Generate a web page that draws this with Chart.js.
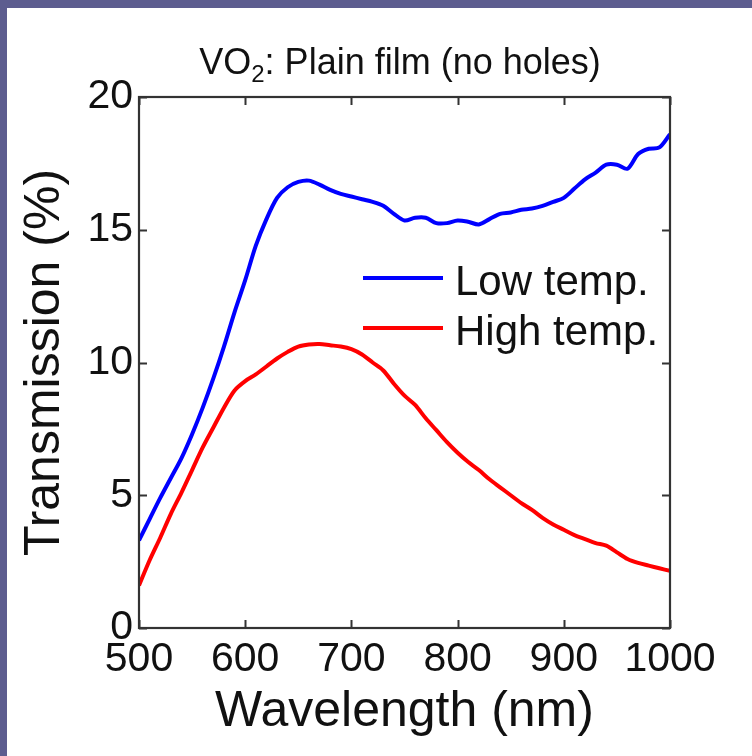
<!DOCTYPE html>
<html>
<head>
<meta charset="utf-8">
<script src="https://cdn.jsdelivr.net/npm/chart.js@4.4.1/dist/chart.umd.min.js"></script>
<style>
    body { margin: 0; background: #5d5d8f; width: 752px; height: 756px; overflow: hidden; }
    #grafica { position: absolute; left: 7px; top: 8px; background: #ffffff; }
</style>
</head>
<body>
<canvas id="grafica" width="745" height="748"></canvas>
<script>
// longituds d'ona (nm), pas de 10 nm
var longitudsOna = [500, 510, 520, 530, 540, 550, 560, 570, 580, 590,
    600, 610, 620, 630, 640, 650, 660, 670, 680, 690,
    700, 710, 720, 730, 740, 750, 760, 770, 780, 790,
    800, 810, 820, 830, 840, 850, 860, 870, 880, 890,
    900, 910, 920, 930, 940, 950, 960, 970, 980, 990, 1000];

// transmissio (%) a temperatura baixa
var tempBaixa = [3.3, 4.1, 4.9, 5.65, 6.4, 7.3, 8.3, 9.4, 10.6, 11.9,
    13.1, 14.4, 15.4, 16.2, 16.6, 16.8, 16.85, 16.7, 16.5, 16.35,
    16.25, 16.15, 16.05, 15.9, 15.6, 15.35, 15.45, 15.45, 15.25, 15.25,
    15.35, 15.3, 15.2, 15.4, 15.6, 15.65, 15.75, 15.8, 15.9, 16.05,
    16.2, 16.55, 16.9, 17.15, 17.45, 17.45, 17.3, 17.85, 18.05, 18.1, 18.6];

// transmissio (%) a temperatura alta
var tempAlta = [1.6, 2.55, 3.4, 4.3, 5.1, 5.95, 6.8, 7.55, 8.3, 8.95,
    9.3, 9.55, 9.85, 10.15, 10.4, 10.6, 10.68, 10.7, 10.65, 10.6,
    10.5, 10.3, 10.0, 9.7, 9.2, 8.75, 8.4, 7.9, 7.45, 7.0,
    6.6, 6.25, 5.95, 5.6, 5.3, 5.0, 4.7, 4.45, 4.15, 3.9,
    3.7, 3.5, 3.35, 3.2, 3.1, 2.85, 2.6, 2.45, 2.35, 2.25, 2.15];

var ticksX = [500, 600, 700, 800, 900, 1000];
var ticksY = [0, 5, 10, 15, 20];
var etiquetes = ['Low temp.', 'High temp.'];

var lletra = "'Liberation Sans', Arial, sans-serif";

function punts(valors) {
    return valors.map(function (v, i) { return { x: longitudsOna[i], y: v }; });
}

//caixa amb marques cap a dins, llegenda i titol amb subindex
const decoracio = {
    id: 'decoracio',
    afterDraw(chart) {
        const ctx = chart.ctx;
        const a = chart.chartArea;
        const x = chart.scales.x;
        const y = chart.scales.y;
        ctx.save();
        ctx.strokeStyle = '#333';
        ctx.lineWidth = 2.2;
        ctx.strokeRect(a.left, a.top, a.right - a.left, a.bottom - a.top);
        ctx.lineWidth = 2;
        ctx.beginPath();
        x.ticks.forEach(function (t) {
            let px = Math.round(x.getPixelForValue(t.value)) + 0.5;
            ctx.moveTo(px, a.bottom); ctx.lineTo(px, a.bottom - 8);
            ctx.moveTo(px, a.top); ctx.lineTo(px, a.top + 8);
        });
        y.ticks.forEach(function (t) {
            let py = Math.round(y.getPixelForValue(t.value)) + 0.5;
            ctx.moveTo(a.left, py); ctx.lineTo(a.left + 8, py);
            ctx.moveTo(a.right, py); ctx.lineTo(a.right - 8, py);
        });
        ctx.stroke();

        // llegenda dins l'area
        ctx.font = '42px ' + lletra;
        ctx.fillStyle = '#111';
        ctx.textBaseline = 'alphabetic';
        chart.data.datasets.forEach(function (ds, i) {
            let ly = 270 + i * 50;
            ctx.strokeStyle = ds.borderColor;
            ctx.lineWidth = 4;
            ctx.beginPath();
            ctx.moveTo(356, ly); ctx.lineTo(436, ly);
            ctx.stroke();
            ctx.fillText(ds.label, 448, ly + 17);
        });

        // titol: VO2: Plain film (no holes)
        let gran = '36px ' + lletra;
        let petit = '24px ' + lletra;
        ctx.font = gran;
        let w1 = ctx.measureText('VO').width;
        let w3 = ctx.measureText(': Plain film (no holes)').width;
        ctx.font = petit;
        let w2 = ctx.measureText('2').width;
        let x0 = 393 - (w1 + w2 + w3) / 2;
        let base = 66;
        ctx.font = gran;
        ctx.fillText('VO', x0, base);
        ctx.font = petit;
        ctx.fillText('2', x0 + w1, base + 8);
        ctx.font = gran;
        ctx.fillText(': Plain film (no holes)', x0 + w1 + w2, base);
        ctx.restore();
    }
};

const ctx = document.getElementById('grafica');
const grafica = new Chart(ctx, {
    type: 'line',
    data: {
        datasets: [{
            label: etiquetes[0],
            data: punts(tempBaixa),
            borderColor: 'rgb(0, 0, 255)',
            borderWidth: 4,
            pointRadius: 0,
            tension: 0.3
        }, {
            label: etiquetes[1],
            data: punts(tempAlta),
            borderColor: 'rgb(255, 0, 0)',
            borderWidth: 4,
            pointRadius: 0,
            tension: 0.3
        }]
    },
    options: {
        responsive: false,
        animation: false,
        devicePixelRatio: 1,
        layout: {
            padding: { top: 89, right: 82, left: 0, bottom: 0 }
        },
        plugins: {
            legend: { display: false },
            tooltip: { enabled: false }
        },
        scales: {
            x: {
                type: 'linear',
                min: 500,
                max: 1000,
                afterFit: function (s) { s.height = 128; },
                afterBuildTicks: function (s) { s.ticks = ticksX.map(function (v) { return { value: v }; }); },
                grid: { display: false, drawTicks: false },
                border: { display: false },
                ticks: {
                    padding: 7,
                    color: '#111',
                    autoSkip: false,
                    maxRotation: 0,
                    minRotation: 0,
                    callback: function (v) { return String(v); },
                    font: { family: lletra, size: 41 }
                },
                title: {
                    display: true,
                    text: 'Wavelength (nm)',
                    color: '#111',
                    font: { family: lletra, size: 50 },
                    padding: { top: 0, bottom: 14 }
                }
            },
            y: {
                min: 0,
                max: 20,
                afterFit: function (s) { s.width = 132; },
                afterBuildTicks: function (s) { s.ticks = ticksY.map(function (v) { return { value: v }; }); },
                grid: { display: false, drawTicks: false },
                border: { display: false },
                ticks: {
                    padding: 6,
                    color: '#111',
                    callback: function (v) { return String(v); },
                    font: { family: lletra, size: 41 }
                },
                title: {
                    display: true,
                    text: 'Transmission (%)',
                    color: '#111',
                    font: { family: lletra, size: 50 },
                    padding: { top: 8, bottom: 0 }
                }
            }
        }
    },
    plugins: [decoracio]
});
</script>
</body>
</html>
